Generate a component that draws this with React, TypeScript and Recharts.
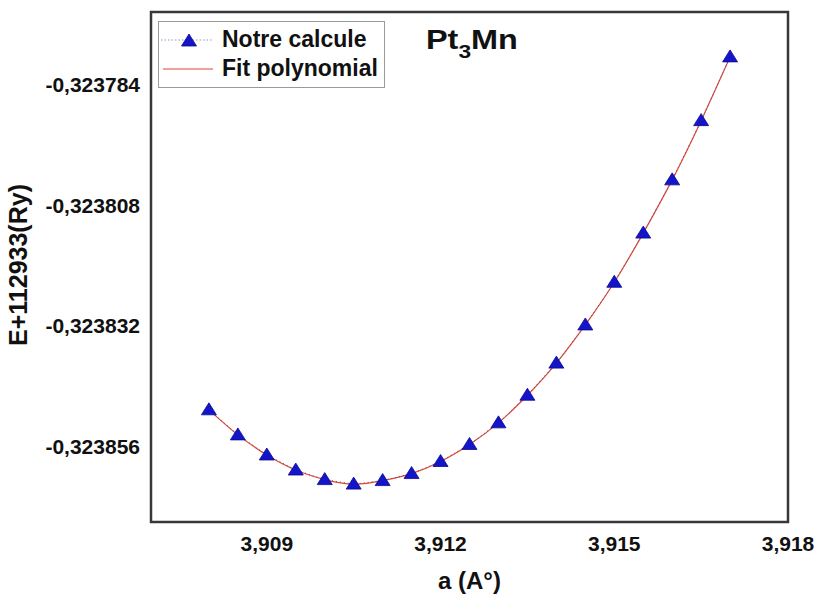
import React from "react";
import {
  ComposedChart,
  Line,
  XAxis,
  YAxis,
  ReferenceArea,
  Legend,
} from "recharts";

// lattice parameter a (Å) and total energy shifted by +112933 Ry
const latticeA = [
  3.908, 3.9085, 3.909, 3.9095, 3.91, 3.9105, 3.911, 3.9115, 3.912, 3.9125,
  3.913, 3.9135, 3.914, 3.9145, 3.915, 3.9155, 3.916, 3.9165, 3.917,
];
const energyRy = [
  -0.3238487, -0.3238537, -0.3238577, -0.3238607, -0.3238626, -0.3238635,
  -0.3238628, -0.3238614, -0.323859, -0.3238556, -0.3238513, -0.3238458,
  -0.3238394, -0.3238318, -0.3238233, -0.3238135, -0.3238029, -0.3237911,
  -0.3237784,
];
const xTicks = [3.909, 3.912, 3.915, 3.918];
const yTicks = [-0.323856, -0.323832, -0.323808, -0.323784];

const xDomain = [3.907, 3.918];
const yDomain = [-0.32387105, -0.32376946];

const data = latticeA.map((a, i) => ({ a, e: energyRy[i] }));

const FONT = "'Liberation Sans', Arial, sans-serif";
const BLUE = "#1414c8";
const RED = "#e0463a";

const comma = (v: number, d: number) => v.toFixed(d).replace(".", ",");

function Triangle(props: any) {
  const { cx, cy } = props;
  if (cx == null || cy == null) return null;
  return (
    <polygon
      points={`${cx},${cy - 7} ${cx - 7.5},${cy + 5} ${cx + 7.5},${cy + 5}`}
      fill={BLUE}
      stroke="#0a0a90"
      strokeWidth={0.8}
    />
  );
}

function LegendBox() {
  const row: React.CSSProperties = {
    display: "flex",
    alignItems: "center",
    height: 29,
  };
  const label: React.CSSProperties = {
    fontFamily: FONT,
    fontWeight: "bold",
    fontSize: 23,
    color: "#111",
    marginLeft: 8,
    whiteSpace: "nowrap",
  };
  return (
    <div
      style={{
        border: "1px solid #9a9a9a",
        padding: "3px 6px 4px 1px",
        background: "#fff",
      }}
    >
      <div style={row}>
        <svg width={54} height={20}>
          <line
            x1={1}
            y1={10}
            x2={53}
            y2={10}
            stroke="#8a9ab8"
            strokeWidth={1.2}
            strokeDasharray="1.5 2"
          />
          <Triangle cx={29} cy={11} />
        </svg>
        <span style={label}>Notre calcule</span>
      </div>
      <div style={row}>
        <svg width={54} height={20}>
          <line x1={3} y1={10} x2={53} y2={10} stroke={RED} strokeWidth={1.2} />
        </svg>
        <span style={label}>Fit polynomial</span>
      </div>
    </div>
  );
}

export default function App() {
  return (
    <div
      style={{
        position: "absolute",
        left: 0,
        top: 0,
        width: 816,
        height: 598,
        background: "#fff",
      }}
    >
      <ComposedChart
        width={816}
        height={598}
        data={data}
        margin={{ top: 12, right: 28, bottom: 36, left: 41 }}
      >
        <XAxis
          dataKey="a"
          type="number"
          domain={xDomain}
          ticks={xTicks}
          allowDataOverflow
          axisLine={false}
          tickLine={false}
          tickSize={0}
          tickMargin={14}
          height={40}
          tickFormatter={(v: number) => comma(v, 3)}
          tick={{ fontFamily: FONT, fontWeight: "bold", fontSize: 21, fill: "#111" }}
        />
        <YAxis
          type="number"
          domain={yDomain}
          ticks={yTicks}
          allowDataOverflow
          axisLine={false}
          tickLine={false}
          tickSize={0}
          tickMargin={11}
          width={110}
          tickFormatter={(v: number) => comma(v, 6)}
          tick={{ fontFamily: FONT, fontWeight: "bold", fontSize: 21, fill: "#111" }}
        />
        <Line
          dataKey="e"
          type="natural"
          stroke={RED}
          strokeWidth={1.2}
          dot={false}
          activeDot={false}
          legendType="none"
          isAnimationActive={false}
        />
        <Line
          dataKey="e"
          type="linear"
          stroke="#5a5a6a"
          strokeWidth={1}
          strokeDasharray="1 3"
          dot={<Triangle />}
          activeDot={false}
          legendType="none"
          isAnimationActive={false}
        />
        <ReferenceArea
          x1={xDomain[0]}
          x2={xDomain[1]}
          y1={yDomain[0]}
          y2={yDomain[1]}
          fill="none"
          fillOpacity={0}
          stroke="#383838"
          strokeWidth={2.5}
          ifOverflow="visible"
        />
        <Legend
          layout="horizontal"
          verticalAlign="middle"
          align="center"
          content={() => <LegendBox />}
          wrapperStyle={{ left: 158, top: 21, width: "auto" }}
        />
      </ComposedChart>

      {/* compound label */}
      <div
        style={{
          position: "absolute",
          left: 426,
          top: 25,
          fontFamily: FONT,
          fontWeight: "bold",
          fontSize: 27,
          color: "#111",
          lineHeight: "30px",
          transform: "scaleX(1.2)",
          transformOrigin: "left center",
          whiteSpace: "nowrap",
        }}
      >
        Pt<sub style={{ fontSize: 19, verticalAlign: "-9px" }}>3</sub>Mn
      </div>

      {/* axis titles */}
      <div
        style={{
          position: "absolute",
          left: 0,
          width: 939,
          top: 567,
          textAlign: "center",
          fontFamily: FONT,
          fontWeight: "bold",
          fontSize: 24,
          color: "#111",
        }}
      >
        a (A°)
      </div>
      <div
        style={{
          position: "absolute",
          left: 18,
          top: 265,
          transform: "translate(-50%, -50%) rotate(-90deg)",
          fontFamily: FONT,
          fontWeight: "bold",
          fontSize: 25,
          color: "#111",
          whiteSpace: "nowrap",
        }}
      >
        E+112933(Ry)
      </div>
    </div>
  );
}
